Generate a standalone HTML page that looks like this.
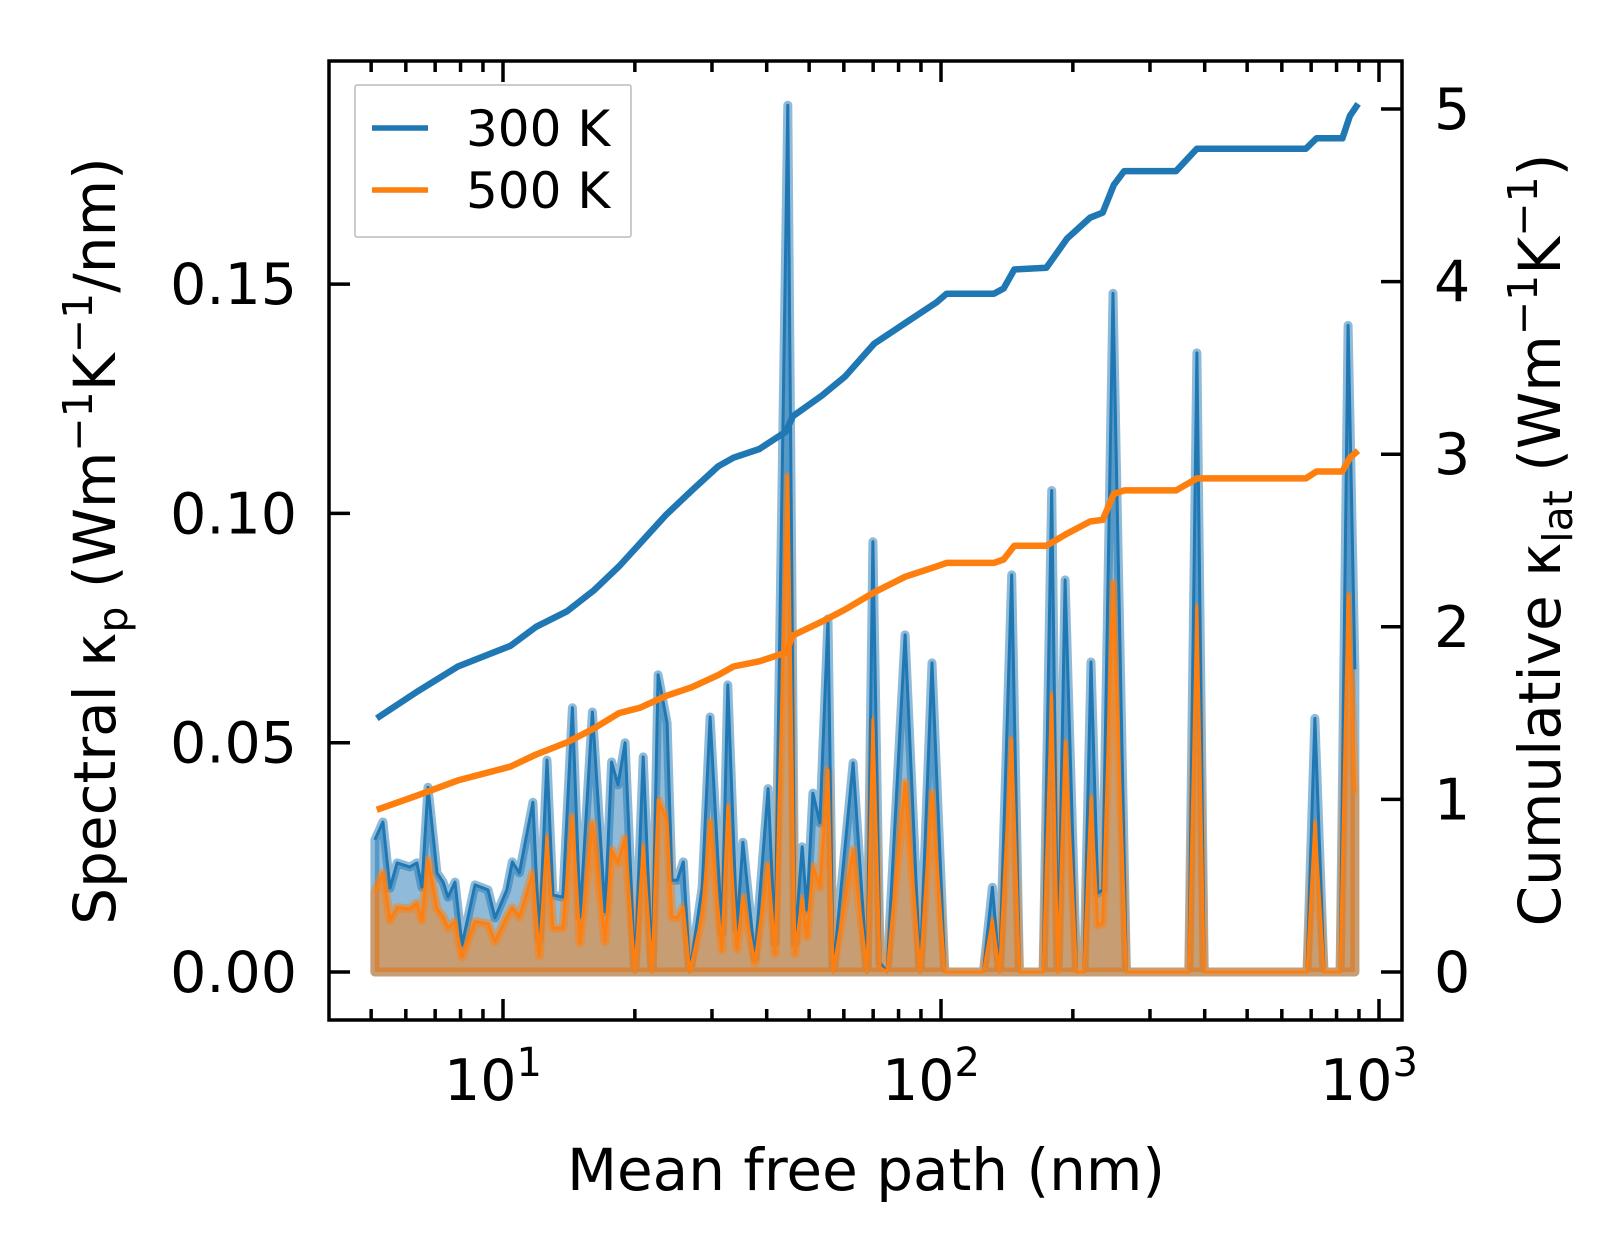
<!DOCTYPE html>
<html><head><meta charset="utf-8"><style>
html,body{margin:0;padding:0;background:#fff;}
svg text{font-family:"DejaVu Sans","Liberation Sans",sans-serif;fill:#000;}
</style></head><body>
<svg id="chart" width="1623" height="1254" viewBox="0 0 1623 1254" xmlns="http://www.w3.org/2000/svg">
<rect width="1623" height="1254" fill="#fff"/>
<g id="plot"></g>
</svg>
<script>
// Spectral data (mean free path nm, value W/mK/nm)
const specMfp = [5.10,5.32,5.52,5.73,6.13,6.36,6.53,6.74,7.07,7.30,7.49,7.77,8.06,8.63,9.24,9.59,10.2,10.5,10.9,11.7,12.1,12.6,13.0,13.7,14.4,15.0,16.0,17.1,17.7,18.3,19.0,20.0,20.9,21.9,22.6,23.7,24.3,25.0,25.8,26.7,28.5,29.7,31.6,32.6,34.2,35.3,37.6,40.3,41.8,44.7,46.4,48.2,49.4,51.0,52.9,55.2,56.7,63.0,67.8,69.9,72.6,75.3,82.8,89.6,95.4,102,107,125,131,136,145,151,171,179,185,192,204,212,220,228,234,247,265,368,384,399,685,714,749,815,850,881];
const spec300 = [0.0288,0.0327,0.0183,0.0238,0.0229,0.0238,0.0185,0.0403,0.0216,0.0196,0.0163,0.0196,0.0059,0.019,0.0179,0.0118,0.0179,0.024,0.0216,0.037,0.007,0.0462,0.0168,0.0163,0.0576,0.012,0.0567,0.0131,0.0458,0.0408,0.050,0,0.0469,0,0.0648,0.0543,0.020,0.020,0.024,0,0.0185,0.0556,0.0085,0.0626,0.0092,0.0283,0.003,0.040,0.0063,0.189,0.0063,0.0273,0.0135,0.039,0.0325,0.077,0,0.0456,0,0.0938,0.002,0,0.0735,0,0.0674,0,0,0,0.0185,0,0.0866,0,0,0.105,0,0.0855,0,0,0.0676,0.0172,0.0179,0.148,0,0,0.135,0,0,0.0553,0,0,0.141,0.066];
const spec500 = [0.0174,0.0216,0.0113,0.014,0.0138,0.015,0.0113,0.0244,0.0138,0.012,0.0096,0.011,0.0033,0.011,0.0105,0.0066,0.012,0.014,0.012,0.0216,0.0035,0.0294,0.0096,0.0096,0.0338,0.0063,0.0325,0.0066,0.0266,0.0238,0.0292,0,0.0273,0,0.0375,0.033,0.012,0.0118,0.0142,0,0.0125,0.0327,0.0048,0.036,0.005,0.0163,0.002,0.0233,0.004,0.108,0.004,0.016,0.0077,0.023,0.0185,0.044,0,0.0266,0,0.055,0.001,0,0.0413,0,0.039,0,0,0,0.0113,0,0.0506,0,0,0.0604,0,0.050,0,0,0.038,0.0102,0.0106,0.0848,0,0,0.0796,0,0,0.0325,0,0,0.082,0.039];
// Cumulative data
const cumMfp = [5.15,6.33,7.89,10.4,11.9,14.0,16.1,18.4,20.5,23.6,27.0,31.0,33.6,38.5,44.2,45.9,53.5,60.4,70.4,82.9,97.7,103,132,139,147,174,194,219,234,248,262,344,384,681,720,825,858,896];
const cum300 = [1.47,1.62,1.77,1.89,2.00,2.09,2.21,2.35,2.48,2.65,2.79,2.93,2.98,3.03,3.13,3.22,3.34,3.45,3.64,3.76,3.88,3.93,3.93,3.96,4.07,4.08,4.25,4.37,4.40,4.56,4.64,4.64,4.77,4.77,4.83,4.83,4.96,5.03];
const cum500 = [0.94,1.02,1.11,1.19,1.26,1.33,1.41,1.50,1.53,1.60,1.65,1.72,1.77,1.80,1.85,1.95,2.03,2.10,2.20,2.29,2.35,2.37,2.37,2.39,2.47,2.47,2.54,2.61,2.62,2.77,2.79,2.79,2.86,2.86,2.90,2.90,2.98,3.02];
const leftTicks = [0, 0.05, 0.10, 0.15];
const leftTickLabels = ["0.00","0.05","0.10","0.15"];
const rightTicks = [0,1,2,3,4,5];
const xMajor = [1,2,3];

const L=329,R=1402,T=61,B=1020;
const x = v => 503 + (Math.log10(v)-1)*438;
const yL = v => 972 - v/0.05*229.3;
const yR = v => 972 - v*172.6;
const NS="http://www.w3.org/2000/svg";
const g=document.getElementById('plot');
function mk(tag,attrs,parent){const e=document.createElementNS(NS,tag);for(const k in attrs)e.setAttribute(k,attrs[k]);(parent||g).appendChild(e);return e;}
const C1="#1f77b4", C2="#ff7f0e";

const defs=mk('defs',{});
const cp=mk('clipPath',{id:'clip'},defs);
mk('rect',{x:L,y:T,width:R-L,height:B-T},cp);
const pg=mk('g',{'clip-path':'url(#clip)'});

function area(vals,color,name){
  let pts=specMfp.map((m,i)=>x(m).toFixed(1)+','+yL(vals[i]).toFixed(1));
  pts.push(x(specMfp[specMfp.length-1]).toFixed(1)+','+yL(0));
  pts.push(x(specMfp[0]).toFixed(1)+','+yL(0));
  const p=mk('polygon',{points:pts.join(' '),fill:color,'fill-opacity':0.5,stroke:color,'stroke-opacity':0.5,'stroke-width':9,'stroke-linejoin':'round'},pg);
  
  
}
function line(mArr,vals,fy,color,w,name){
  const pts=mArr.map((m,i)=>x(m).toFixed(1)+','+fy(vals[i]).toFixed(1)).join(' ');
  const p=mk('polyline',{points:pts,fill:'none',stroke:color,'stroke-width':w,'stroke-linejoin':'round'},pg);
  
  
}
area(spec300,C1,'spectral-300k-area');
area(spec500,C2,'spectral-500k-area');
line(specMfp,spec300,yL,C1,3,'spectral-300k-line');
line(specMfp,spec500,yL,C2,3,'spectral-500k-line');
line(cumMfp,cum300,yR,C1,6.5,'cumulative-300k-line');
line(cumMfp,cum500,yR,C2,6.5,'cumulative-500k-line');

const tk=mk('g',{stroke:'#000','stroke-width':3.5});


leftTicks.forEach(v=>mk('line',{x1:L,x2:L+21,y1:yL(v),y2:yL(v)},tk));
rightTicks.forEach(v=>mk('line',{x1:R,x2:R-21,y1:yR(v),y2:yR(v)},tk));
for(let d=0;d<=3;d++){for(let k=1;k<10;k++){const v=k*Math.pow(10,d);const px=x(v);if(px<L||px>R)continue;const len=k===1?21:11;
  mk('line',{x1:px,x2:px,y1:B,y2:B-len},tk);mk('line',{x1:px,x2:px,y1:T,y2:T+len},tk);}}
const sp=mk('rect',{x:L,y:T,width:R-L,height:B-T,fill:'none',stroke:'#000','stroke-width':3.5});



leftTicks.forEach((v,i)=>{const t=mk('text',{x:297,y:yL(v)+20,'font-size':57,'text-anchor':'end'});t.textContent=leftTickLabels[i];
  
  });
rightTicks.forEach(v=>{const t=mk('text',{x:1434,y:yR(v)+20,'font-size':57,'text-anchor':'start'});t.textContent=String(v);
  
  });
xMajor.forEach(d=>{const t=mk('text',{x:x(Math.pow(10,d))-10,y:1100,'font-size':57,'text-anchor':'middle'});
  t.innerHTML='10<tspan dy="-24" font-size="40">'+d+'</tspan>';
  
  });
</script>
<svg style="position:absolute;left:0;top:0" width="1623" height="1254">
<text x="866" y="1190" font-size="58" text-anchor="middle">Mean free path (nm)</text>
<text transform="translate(115,541) rotate(-90)" font-size="58" text-anchor="middle">Spectral κ<tspan dy="12" font-size="41">p</tspan><tspan dy="-12"> (Wm</tspan><tspan dy="-23" font-size="41">−1</tspan><tspan dy="23">K</tspan><tspan dy="-23" font-size="41">−1</tspan><tspan dy="23">/nm)</tspan></text>
<text transform="translate(1560,540) rotate(-90)" font-size="58" text-anchor="middle">Cumulative κ<tspan dy="12" font-size="41">lat</tspan><tspan dy="-12"> (Wm</tspan><tspan dy="-23" font-size="41">−1</tspan><tspan dy="23">K</tspan><tspan dy="-23" font-size="41">−1</tspan><tspan dy="23">)</tspan></text>
<g>
<rect x="355" y="85" width="276" height="152" fill="#fff" fill-opacity="0.8" stroke="#bbb" stroke-width="1.5" rx="2"/>
<line x1="372" x2="428" y1="128" y2="128" stroke="#1f77b4" stroke-width="5.5"/>
<text x="466" y="146" font-size="50">300 K</text>
<line x1="372" x2="428" y1="190" y2="190" stroke="#ff7f0e" stroke-width="5.5"/>
<text x="466" y="208" font-size="50">500 K</text>
</g>
</svg>
</body></html>
